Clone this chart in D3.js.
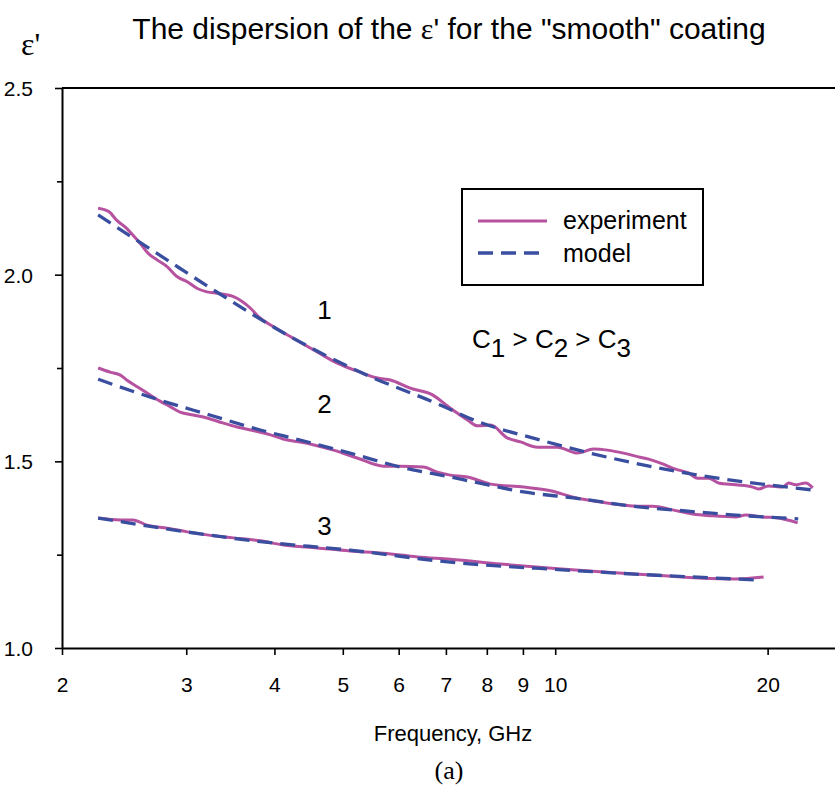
<!DOCTYPE html>
<html lang="en">
<head>
<meta charset="UTF-8">
<title>Dispersion of e' - smooth coating</title>
<script src="https://cdnjs.cloudflare.com/ajax/libs/d3/7.8.5/d3.min.js"></script>
<style>
    * { margin: 0; padding: 0; }
    body { background: #fff; width: 835px; height: 787px; overflow: hidden; }
    svg text { font-family: "Liberation Sans", Arial, sans-serif; fill: #000; }
    .serif { font-family: "Liberation Serif", "Times New Roman", serif !important; }
</style>
</head>
<body>
<div id="chart"></div>
<script>
    // x ticks (GHz) and y ticks
    const xTicks = [2, 3, 4, 5, 6, 7, 8, 9, 10, 20];
    const yTicks = [1.0, 1.5, 2.0, 2.5];
    const yMinor = [1.25, 1.75, 2.25];

    // curve 1: [frequency, eps']
    const exp1 = [[2.25,2.178],[2.33,2.169],[2.39,2.146],[2.47,2.124],[2.52,2.106],[2.58,2.084],[2.65,2.057],
        [2.73,2.039],[2.82,2.021],[2.91,1.995],[3.01,1.981],[3.11,1.963],[3.21,1.954],[3.32,1.950],[3.42,1.946],
        [3.50,1.941],[3.60,1.928],[3.70,1.910],[3.80,1.887],[3.95,1.865],[4.25,1.830],[4.60,1.793],[4.91,1.763],
        [5.29,1.739],[5.60,1.723],[5.84,1.718],[6.23,1.696],[6.70,1.678],[7.06,1.646],[7.51,1.611],[7.76,1.595],
        [8.10,1.597],[8.55,1.563],[8.93,1.552],[9.44,1.538],[10.07,1.538],[10.75,1.522],[11.33,1.533],[11.86,1.530],
        [12.50,1.522],[13.12,1.512],[13.56,1.506],[14.20,1.493],[14.81,1.479],[15.45,1.469],[15.91,1.455],
        [16.49,1.455],[17.04,1.442],[18.02,1.437],[19.05,1.431],[19.42,1.426],[20.06,1.434],[21.00,1.431],
        [21.42,1.442],[21.91,1.437],[22.64,1.442],[23.17,1.429]];
    const mod1 = [[2.25,2.160],[2.82,2.039],[3.28,1.959],[4.25,1.830],[5.29,1.739],[6.87,1.651],[7.66,1.611],
        [9.53,1.557],[11.2,1.522],[12.9,1.496],[16.18,1.461],[20.06,1.437],[23.25,1.423]];

    // curve 2
    const exp2 = [[2.25,1.750],[2.34,1.739],[2.42,1.731],[2.47,1.718],[2.56,1.699],[2.64,1.683],[2.75,1.662],
        [2.85,1.646],[2.94,1.632],[3.07,1.624],[3.21,1.616],[3.38,1.603],[3.54,1.592],[3.70,1.584],[3.95,1.571],
        [4.17,1.557],[4.35,1.552],[4.85,1.530],[5.24,1.509],[5.71,1.487],[6.03,1.487],[6.50,1.485],[6.81,1.471],
        [7.10,1.463],[7.51,1.458],[8.10,1.439],[9.02,1.431],[9.85,1.421],[10.61,1.404],[11.59,1.391],[13.12,1.380],
        [13.74,1.380],[14.67,1.370],[15.65,1.359],[16.71,1.354],[18.02,1.351],[18.62,1.356],[19.67,1.351],
        [20.73,1.348],[22.06,1.335]];
    const mod2 = [[2.25,1.720],[2.75,1.664],[3.24,1.624],[3.82,1.584],[4.35,1.557],[5.12,1.522],[6.03,1.485],
        [7.10,1.458],[7.66,1.445],[9.02,1.418],[10.61,1.402],[13.12,1.378],[15.30,1.367],[18.02,1.356],[22.1,1.346]];

    // curve 3
    const exp3 = [[2.25,1.348],[2.42,1.343],[2.52,1.343],[2.64,1.329],[2.82,1.321],[3.01,1.311],[3.21,1.303],
        [3.50,1.295],[3.82,1.287],[4.12,1.276],[4.60,1.268],[5.12,1.260],[5.71,1.254],[6.38,1.244],[7.10,1.238],
        [8.36,1.225],[10.1,1.212],[11.59,1.204],[12.95,1.198],[14.48,1.193],[16.18,1.187],[18.02,1.185],[19.74,1.190]];
    const mod3 = [[2.25,1.348],[3.82,1.285],[5.12,1.262],[7.10,1.230],[10.1,1.210],[12.95,1.198],[16.18,1.189],[19.4,1.182]];

    // curve numbers, anchored in data units
    const curveLabels = [["1", 4.71, 1.881], ["2", 4.71, 1.629], ["3", 4.71, 1.303]];

    const W = 835, H = 787;
    const expColor = "#b6529f", modColor = "#3a4ea0";

    const svg = d3.select("#chart").append("svg")
        .attr("width", W).attr("height", H);

    const x = d3.scaleLog().domain([2, 25]).range([62, 836]);
    const y = d3.scaleLinear().domain([1.0, 2.5]).range([648, 88]);

    // title
    svg.append("text")
        .attr("x", 449).attr("y", 39)
        .attr("text-anchor", "middle")
        .style("font-size", "30px")
        .html('The dispersion of the <tspan class="serif">ε</tspan>\' for the "smooth" coating');

    svg.append("text")
        .attr("class", "serif")
        .attr("x", 21).attr("y", 55)
        .style("font-size", "32px")
        .text("ε'");

    // top border
    svg.append("line")
        .attr("x1", 62).attr("x2", 836)
        .attr("y1", y(2.5)).attr("y2", y(2.5))
        .attr("stroke", "#000").attr("stroke-width", 2);

    // axes
    const xAxis = svg.append("g")
        .attr("transform", `translate(0,${y(1.0)})`)
        .call(d3.axisBottom(x).tickValues(xTicks).tickFormat(d3.format("d")).tickSize(7).tickSizeOuter(0));
    xAxis.selectAll("text").style("font-size", "21px").attr("y", 44).attr("dy", 0);

    const yAxis = svg.append("g")
        .attr("transform", `translate(62,0)`)
        .call(d3.axisLeft(y).tickValues(yTicks).tickFormat(d3.format(".1f")).tickSize(7).tickSizeOuter(0));
    yAxis.selectAll("text").style("font-size", "21px").attr("x", -29).attr("dy", "0.36em");

    svg.append("g")
        .attr("transform", `translate(62,0)`)
        .call(d3.axisLeft(y).tickValues(yMinor).tickFormat("").tickSize(5).tickSizeOuter(0))
        .select(".domain").remove();

    svg.selectAll(".domain").attr("stroke-width", 2);
    svg.selectAll(".tick line").attr("stroke-width", 1.6);

    // curves
    const line = d3.line()
        .x(d => x(d[0]))
        .y(d => y(d[1]))
        .curve(d3.curveMonotoneX);

    [exp1, exp2, exp3].forEach(s => {
        svg.append("path")
            .attr("d", line(s))
            .attr("fill", "none")
            .attr("stroke", expColor)
            .attr("stroke-width", 3);
    });
    [mod1, mod2, mod3].forEach(s => {
        svg.append("path")
            .attr("d", line(s))
            .attr("fill", "none")
            .attr("stroke", modColor)
            .attr("stroke-width", 3.3)
            .attr("stroke-dasharray", "15,8");
    });

    // curve labels
    svg.selectAll(".clabel")
        .data(curveLabels)
        .enter().append("text")
        .attr("x", d => x(d[1]))
        .attr("y", d => y(d[2]))
        .attr("text-anchor", "middle")
        .style("font-size", "26px")
        .text(d => d[0]);

    // relation text
    const rel = svg.append("text")
        .attr("x", 472).attr("y", 348)
        .style("font-size", "26px");
    [["C", 0], ["1", 1], [" > C", 0], ["2", 1], [" > C", 0], ["3", 1]].forEach(p => {
        rel.append("tspan")
            .attr("baseline-shift", p[1] ? "-35%" : "0")
            .text(p[0]);
    });

    // legend
    const lg = svg.append("g").attr("transform", "translate(462,189)");
    lg.append("rect").attr("width", 241).attr("height", 96)
        .attr("fill", "#fff").attr("stroke", "#000").attr("stroke-width", 2);
    lg.append("line").attr("x1", 16).attr("x2", 85).attr("y1", 32).attr("y2", 32)
        .attr("stroke", expColor).attr("stroke-width", 3);
    lg.append("line").attr("x1", 16).attr("x2", 85).attr("y1", 64).attr("y2", 64)
        .attr("stroke", modColor).attr("stroke-width", 3.3).attr("stroke-dasharray", "15,8");
    lg.append("text").attr("x", 101).attr("y", 40).style("font-size", "25px").text("experiment");
    lg.append("text").attr("x", 101).attr("y", 73).style("font-size", "25px").text("model");

    // axis title and caption
    svg.append("text")
        .attr("x", 453).attr("y", 741)
        .attr("text-anchor", "middle")
        .style("font-size", "22px")
        .text("Frequency, GHz");

    svg.append("text")
        .attr("class", "serif")
        .attr("x", 449).attr("y", 779)
        .attr("text-anchor", "middle")
        .style("font-size", "26px")
        .text("(a)");
</script>
</body>
</html>
